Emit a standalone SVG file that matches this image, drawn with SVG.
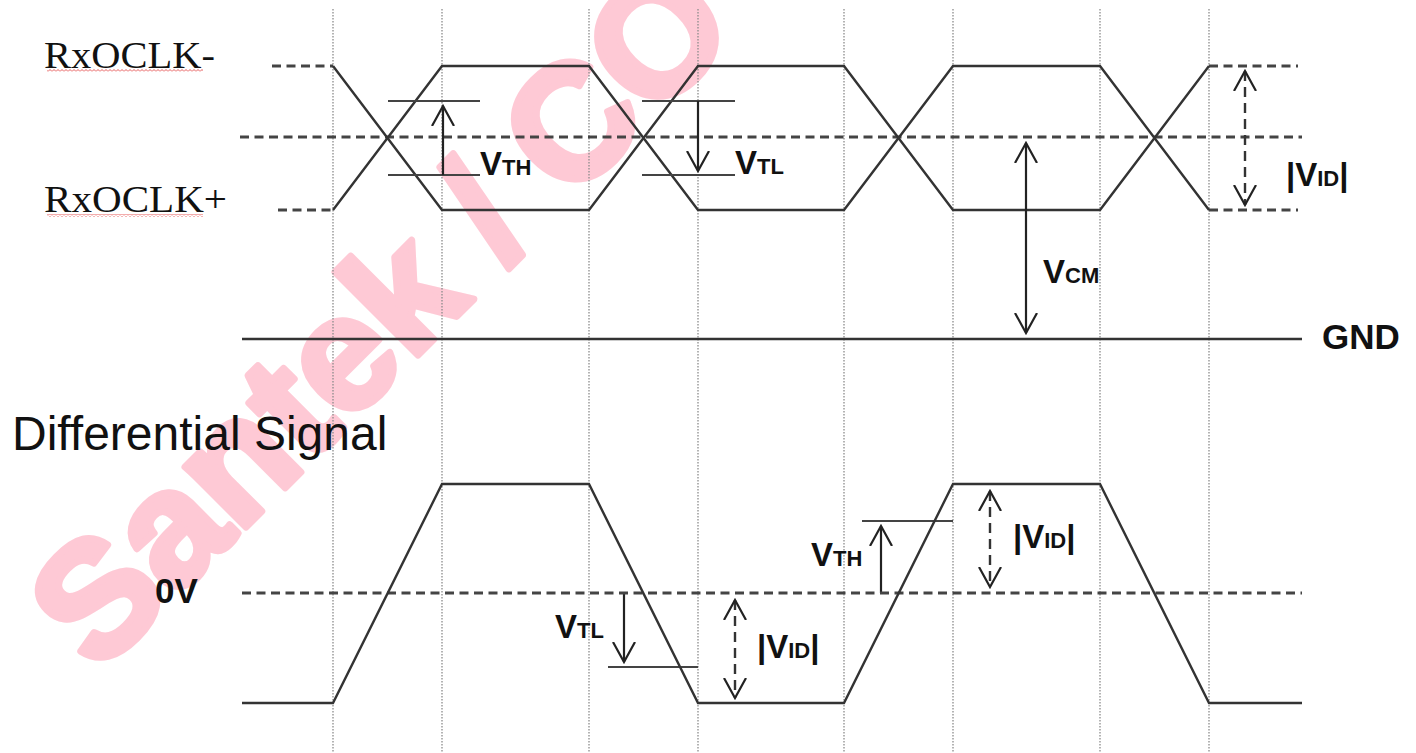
<svg xmlns="http://www.w3.org/2000/svg" width="1416" height="753" viewBox="0 0 1416 753">
<style>
.grid{stroke:#8c8c8c;stroke-width:1.3;stroke-dasharray:1.5 1.5;fill:none}
.sig{stroke:#333;stroke-width:2.4;fill:none;stroke-linejoin:miter}
.ref{stroke:#444;stroke-width:2.2;fill:none}
.dash{stroke:#444;stroke-width:3;stroke-dasharray:9 5.5;fill:none}
.arr{stroke:#222;stroke-width:2.2;fill:none}
.darr{stroke:#333;stroke-width:2.4;stroke-dasharray:10 6;fill:none}
.serif{font-family:"Liberation Serif","Times New Roman",serif;fill:#111}
.lbl{font-family:"Liberation Sans",Arial,sans-serif;font-weight:bold;fill:#111}
.big{font-size:33px}
.sub{font-size:22px}
.wm{font-family:"Liberation Sans",Arial,sans-serif;font-weight:bold;font-size:162px;fill:#FEC9D5;stroke:#FEC9D5;stroke-width:7;stroke-linejoin:round}
</style>
<defs>
<marker id="ah" viewBox="-20 -12 22 24" refX="0" refY="0" markerWidth="22" markerHeight="24" markerUnits="userSpaceOnUse" orient="auto-start-reverse">
<path d="M-20,-11 L0,0 L-20,11" fill="none" stroke="#222" stroke-width="2.2"/>
</marker>
<pattern id="squiggle" width="4" height="3" patternUnits="userSpaceOnUse">
<path d="M0,2.5 L2,0.5 L4,2.5" fill="none" stroke="#e03030" stroke-width="0.8"/>
</pattern>
</defs>
<rect width="1416" height="753" fill="#fff"/>

<g id="watermark">
<text class="wm" transform="translate(98,675) rotate(-45)">Santek / CO</text>
</g>

<g id="grid">
<line class="grid" x1="333" y1="9" x2="333" y2="753"/>
<line class="grid" x1="442" y1="9" x2="442" y2="753"/>
<line class="grid" x1="589" y1="9" x2="589" y2="753"/>
<line class="grid" x1="698" y1="9" x2="698" y2="753"/>
<line class="grid" x1="844" y1="9" x2="844" y2="753"/>
<line class="grid" x1="953" y1="9" x2="953" y2="753"/>
<line class="grid" x1="1100" y1="9" x2="1100" y2="753"/>
<line class="grid" x1="1209" y1="9" x2="1209" y2="753"/>
</g>

<g id="top-levels">
<line class="dash" x1="272" y1="66" x2="333" y2="66"/>
<line class="dash" x1="278" y1="210" x2="333" y2="210"/>
<line class="dash" x1="240" y1="137" x2="1302" y2="137"/>
<line class="dash" x1="1209" y1="66" x2="1298" y2="66"/>
<line class="dash" x1="1209" y1="210" x2="1298" y2="210"/>
<line class="sig" x1="242" y1="339" x2="1302" y2="339"/>
</g>

<g id="signal-minus">
<polyline class="sig" points="333,66 442,210 589,210 698,66 844,66 953,210 1100,210 1209,66"/>
</g>
<g id="signal-plus">
<polyline class="sig" points="333,210 442,66 589,66 698,210 844,210 953,66 1100,66 1209,210"/>
</g>

<g id="top-annotations">
<line class="ref" x1="388" y1="101" x2="480" y2="101"/>
<line class="ref" x1="388" y1="175" x2="480" y2="175"/>
<line class="ref" x1="642" y1="101" x2="735" y2="101"/>
<line class="ref" x1="642" y1="175" x2="735" y2="175"/>
</g>

<g id="connectors">
<line class="arr" x1="443" y1="175" x2="443" y2="106" marker-end="url(#ah)"/>
<line class="arr" x1="698" y1="101" x2="698" y2="171" marker-end="url(#ah)"/>
<line class="arr" x1="1026" y1="143" x2="1026" y2="333" marker-start="url(#ah)" marker-end="url(#ah)"/>
<line class="darr" x1="1245" y1="71" x2="1245" y2="205" marker-start="url(#ah)" marker-end="url(#ah)"/>
<line class="arr" x1="624" y1="593" x2="624" y2="662" marker-end="url(#ah)"/>
<line class="arr" x1="881" y1="593" x2="881" y2="526" marker-end="url(#ah)"/>
<line class="darr" x1="735" y1="600" x2="735" y2="698" marker-start="url(#ah)" marker-end="url(#ah)"/>
<line class="darr" x1="990" y1="491" x2="990" y2="587" marker-start="url(#ah)" marker-end="url(#ah)"/>
</g>

<g id="bottom-levels">
<line class="dash" x1="242" y1="593" x2="1302" y2="593"/>
<line class="ref" x1="608" y1="667" x2="698" y2="667"/>
<line class="ref" x1="862" y1="521" x2="953" y2="521"/>
</g>

<g id="differential-signal">
<polyline class="sig" points="242,703 333,703 442,484 589,484 698,703 844,703 953,484 1100,484 1209,703 1302,703"/>
</g>

<g id="labels">
<text class="serif" x="44" y="68" font-size="38" textLength="171" lengthAdjust="spacingAndGlyphs">RxOCLK-</text>
<rect x="47" y="69" width="156" height="3" fill="url(#squiggle)"/>
<text class="serif" x="44" y="212" font-size="38" textLength="183" lengthAdjust="spacingAndGlyphs">RxOCLK+</text>
<rect x="47" y="214" width="156" height="3" fill="url(#squiggle)"/>

<text class="lbl" x="480" y="175"><tspan class="big">V</tspan><tspan class="sub">TH</tspan></text>
<text class="lbl" x="735" y="174"><tspan class="big">V</tspan><tspan class="sub">TL</tspan></text>
<text class="lbl" x="1043" y="283"><tspan class="big">V</tspan><tspan class="sub">CM</tspan></text>
<text class="lbl" x="1286" y="186"><tspan class="big">|V</tspan><tspan class="sub">ID</tspan><tspan class="big">|</tspan></text>
<text class="lbl" x="1322" y="349" font-size="35">GND</text>

<text x="12" y="450" font-family="'Liberation Sans',Arial,sans-serif" font-size="48" fill="#111">Differential Signal</text>
<text class="lbl" x="155" y="603" font-size="35">0V</text>

<text class="lbl" x="555" y="638"><tspan class="big">V</tspan><tspan class="sub">TL</tspan></text>
<text class="lbl" x="757" y="658"><tspan class="big">|V</tspan><tspan class="sub">ID</tspan><tspan class="big">|</tspan></text>
<text class="lbl" x="811" y="566"><tspan class="big">V</tspan><tspan class="sub">TH</tspan></text>
<text class="lbl" x="1013" y="548"><tspan class="big">|V</tspan><tspan class="sub">ID</tspan><tspan class="big">|</tspan></text>
</g>
</svg>
